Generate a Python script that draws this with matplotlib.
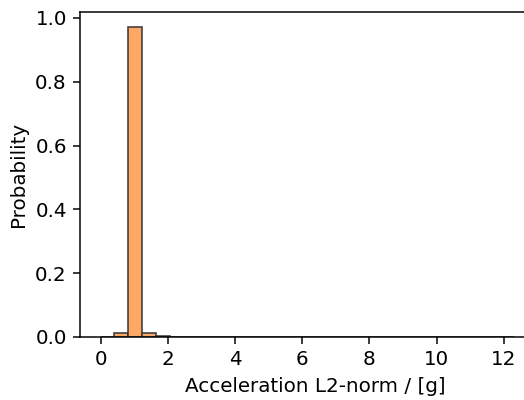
import numpy as np
import matplotlib
matplotlib.use("Agg")
import matplotlib.pyplot as plt

# histogram: 30 bins over 0 .. 12.3 g
bin_lo = 0.0
bin_hi = 12.3
n_bins = 30
probs = [0.0, 0.012, 0.970, 0.012, 0.003] + [0.0] * 25

edges = np.linspace(bin_lo, bin_hi, n_bins + 1)
centers = (edges[:-1] + edges[1:]) / 2

plt.rcParams["font.size"] = 10.6

fig = plt.figure(figsize=(524 / 135, 400 / 135), dpi=135)
# the original plot is cut off on the right, so the axes run past the canvas
ax = fig.add_axes([80 / 524, 63 / 400, 470 / 524, 325 / 400])

ax.hist(centers, bins=edges, weights=probs, color="#ff9f55", alpha=0.9,
        edgecolor="#333333", linewidth=0.9)

ax.set_xlim(-0.615, -0.615 + 470 / 33.6)
ax.spines["right"].set_visible(False)
ax.set_xlabel("Acceleration L2-norm / [g]")
ax.set_ylabel("Probability")
ax.set_xticks([0, 2, 4, 6, 8, 10, 12])

fig.savefig("out.png", dpi=135)
